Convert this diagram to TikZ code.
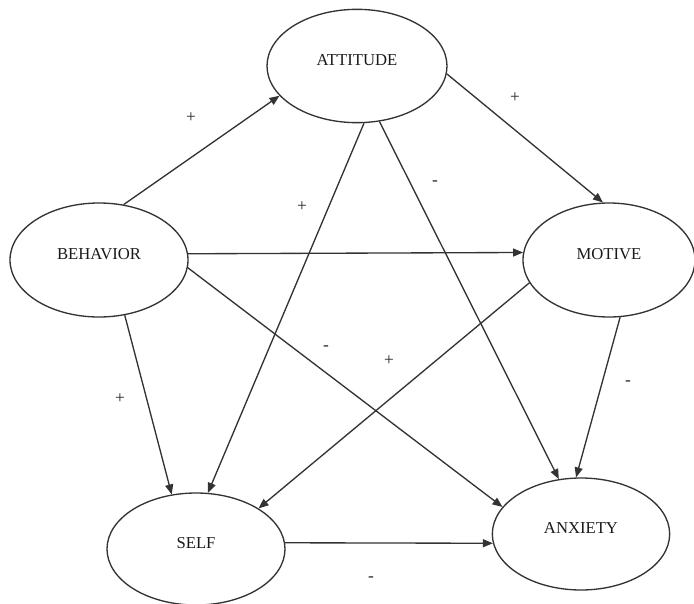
\documentclass[tikz,border=0pt]{standalone}
\usepackage{fontspec}
\setmainfont{Liberation Serif}
\usetikzlibrary{shapes.geometric,arrows.meta}
\begin{document}
\begin{tikzpicture}[x=0.75pt,y=-0.75pt,
	var/.style={draw=black!80,ellipse,inner sep=0pt,line width=1pt},
	link/.style={draw=black!80,line width=1pt,-{Triangle[length=7.5pt,width=6pt]}},
	sign/.style={font=\fontsize{13}{13}\selectfont,text=black!85,inner sep=0pt},
	every label/.style={font=\fontsize{12.5}{12.5}\selectfont,text=black!90,yshift=4.5pt}]
	\useasboundingbox (0,0) rectangle (694,604);
	\node[var,minimum width=135pt,minimum height=85pt,label={center:ATTITUDE}] (att) at (357,66) {};
	\node[var,minimum width=133.5pt,minimum height=85.5pt,label={center:BEHAVIOR}] (beh) at (99,260) {};
	\node[var,minimum width=129pt,minimum height=85.5pt,label={center:MOTIVE}] (mot) at (609,260) {};
	\node[var,minimum width=133.5pt,minimum height=84pt,label={center:SELF}] (self) at (196,549) {};
	\node[var,minimum width=133pt,minimum height=84pt,label={center:ANXIETY}] (anx) at (581,534) {};
	\draw[link] (beh.66.8) -- (att.201.3);
	\draw[link] (beh.4.3) -- (mot.175.6);
	\draw[link] (beh.-5.8) -- (anx.161.1);
	\draw[link] (beh.-65.5) -- (self.114.9);
	\draw[link] (att.-5.8) -- (mot.96.1);
	\draw[link] (att.-83) -- (self.78.9);
	\draw[link] (att.-68) -- (anx.112.1);
	\draw[link] (mot.196.6) -- (self.33.9);
	\draw[link] (mot.-79.3) -- (anx.95.8);
	\draw[link] (self.4.3) -- (anx.186.8);
	\node[sign] (bAtt) at (191,118) {+};
	\node[sign] (aMot) at (515,98) {+};
	\node[sign] (aAnx) at (435,183) {-};
	\node[sign] (aSelf) at (302,207) {+};
	\node[sign] (bAnx) at (326,348) {-};
	\node[sign] (mSelf) at (389,361) {+};
	\node[sign] (bSelf) at (120,399) {+};
	\node[sign] (mAnx) at (628,383) {-};
	\node[sign] (sAnx) at (371,579) {-};
\end{tikzpicture}
\end{document}
